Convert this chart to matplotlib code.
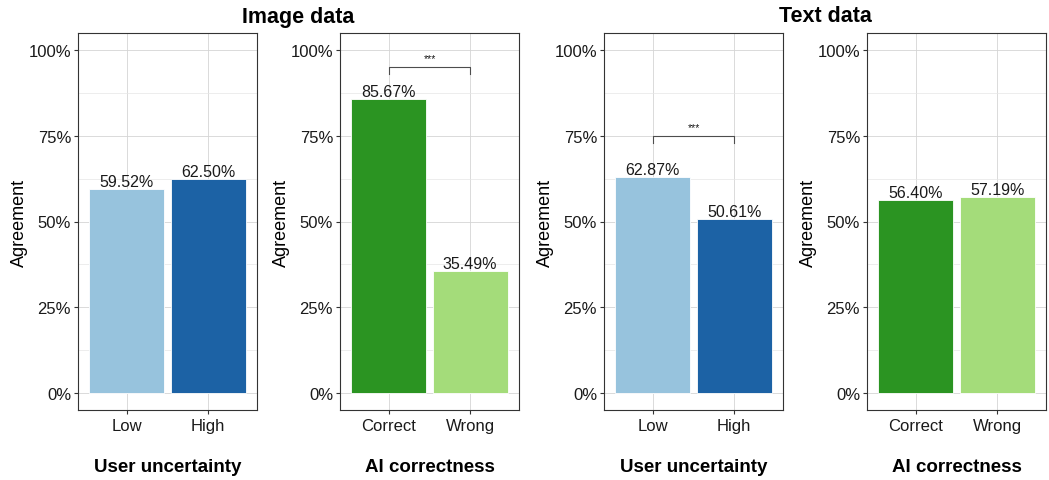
import matplotlib
matplotlib.use("Agg")
import matplotlib.pyplot as plt
from matplotlib.ticker import FixedLocator, PercentFormatter

plt.rcParams['font.family'] = ['Liberation Sans', 'DejaVu Sans']

# Agreement rates per condition
uncertainty_levels = ["Low", "High"]
correctness_levels = ["Correct", "Wrong"]
image_uncertainty = [0.5952, 0.6250]
image_correctness = [0.8567, 0.3549]
text_uncertainty = [0.6287, 0.5061]
text_correctness = [0.5640, 0.5719]

blue_colors = ["#97c3dd", "#1c62a5"]
green_colors = ["#2b9422", "#a4dc7a"]

panels = [
    (uncertainty_levels, image_uncertainty, blue_colors, "User uncertainty", None),
    (correctness_levels, image_correctness, green_colors, "AI correctness", 0.95),
    (uncertainty_levels, text_uncertainty, blue_colors, "User uncertainty", 0.75),
    (correctness_levels, text_correctness, green_colors, "AI correctness", None),
]

W, H = 1049, 481
fig = plt.figure(figsize=(W / 100, H / 100), dpi=100)

lefts = [78, 340, 604, 867]
pw = 179
top, bottom = 34, 411

for (cats, vals, cols, xlabel, bracket), lx in zip(panels, lefts):
    ax = fig.add_axes([lx / W, 1 - bottom / H, pw / W, (bottom - top) / H])
    x = list(range(1, len(cats) + 1))
    ax.bar(x, vals, width=0.92, color=cols, edgecolor="white", linewidth=0.6, zorder=2)
    for xi, v in zip(x, vals):
        ax.text(xi, v, f"{v * 100:.2f}%", ha="center", va="bottom",
                fontsize=11.5, color="#1a1a1a", zorder=3)
    if bracket is not None:
        ax.plot([1, 1, 2, 2], [bracket - 0.02, bracket, bracket, bracket - 0.02],
                color="#4d4d4d", linewidth=0.8, zorder=3)
        ax.text(1.5, bracket + 0.012, "***", ha="center", va="bottom",
                fontsize=7.5, color="#1a1a1a")
    ax.set_xlim(0.4, 2.6)
    ax.set_ylim(-0.05, 1.05)
    ax.set_xticks(x)
    ax.set_xticklabels(cats, fontsize=12, color="#1a1a1a")
    ax.yaxis.set_major_locator(FixedLocator([0, 0.25, 0.5, 0.75, 1.0]))
    ax.yaxis.set_minor_locator(FixedLocator([0.125, 0.375, 0.625, 0.875]))
    ax.yaxis.set_major_formatter(PercentFormatter(1.0, decimals=0))
    ax.tick_params(axis="y", labelsize=12, labelcolor="#1a1a1a", length=3,
                   color="#333333", width=0.8, pad=2)
    ax.tick_params(axis="x", length=3, color="#333333", width=0.8, pad=3)
    ax.tick_params(axis="y", which="minor", length=0)
    ax.grid(True, which="major", color="#d4d4d4", linewidth=0.6, zorder=0)
    ax.grid(True, which="minor", axis="y", color="#e6e6e6", linewidth=0.5, zorder=0)
    ax.set_axisbelow(True)
    for s in ax.spines.values():
        s.set_color("#333333")
        s.set_linewidth(0.8)
    ax.set_ylabel("Agreement", fontsize=13, color="black", labelpad=0)
    ax.set_xlabel(xlabel, fontsize=13.5, fontweight="bold", labelpad=18)

fig.text((78 + 519) / 2 / W, 1 - 17 / H, "Image data", ha="center", va="center",
         fontsize=15.5, fontweight="bold")
fig.text((604 + 1046) / 2 / W, 1 - 17 / H, "Text data", ha="center", va="center",
         fontsize=15.5, fontweight="bold")

fig.savefig("out.png", dpi=100)
